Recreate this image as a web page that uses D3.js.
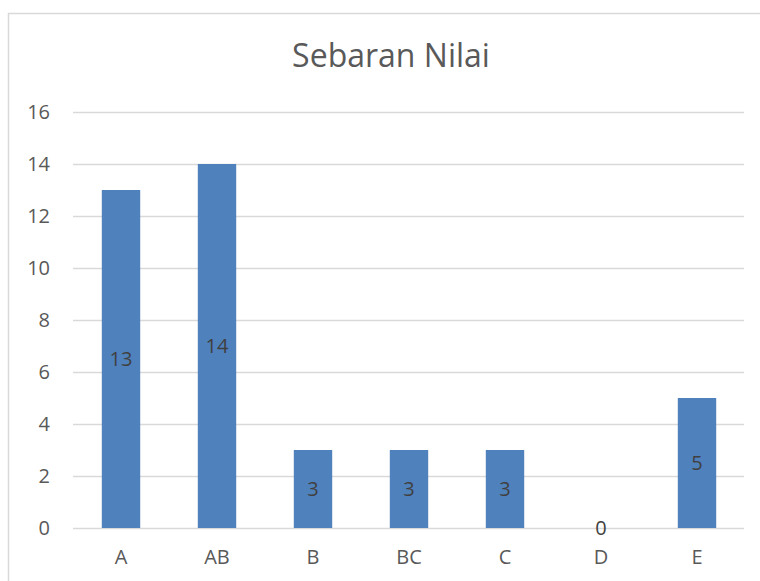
<!DOCTYPE html>
<html>
<head>
<meta charset="utf-8">
<script src="https://cdn.jsdelivr.net/npm/d3@7"></script>
<style>
  body { margin: 0; background: #fff; }
  svg { display: block; font-family: "Open Sans", sans-serif; }
</style>
</head>
<body>
<div id="chart"></div>
<script>
// chart data
var grades = ["A", "AB", "B", "BC", "C", "D", "E"];
var counts = [13, 14, 3, 3, 3, 0, 5];
var yTicks = [0, 2, 4, 6, 8, 10, 12, 14, 16];
var title = "Sebaran Nilai";

var width = 760, height = 581;
var margin = {left: 73, right: 15, top: 112, bottom: 53};

var svg = d3.select("#chart").append("svg")
  .attr("width", width)
  .attr("height", height);

// outer chart frame (runs past the bottom/right of the picture)
svg.append("rect")
  .attr("x", 8.5).attr("y", 13.5)
  .attr("width", 780).attr("height", 600)
  .attr("fill", "none")
  .attr("stroke", "#d9d9d9")
  .attr("stroke-width", 1.5);

var x = d3.scaleBand()
  .domain(grades)
  .range([margin.left, width - margin.right])
  .paddingInner(0.6)
  .paddingOuter(0.3);

var y = d3.scaleLinear()
  .domain([0, 16])
  .range([height - margin.bottom, margin.top]);

// gridlines
svg.append("g")
  .selectAll("line")
  .data(yTicks)
  .enter()
  .append("line")
  .attr("x1", margin.left)
  .attr("x2", width - margin.right - 1)
  .attr("y1", function (d) { return Math.round(y(d)) + 0.5; })
  .attr("y2", function (d) { return Math.round(y(d)) + 0.5; })
  .attr("stroke", "#d9d9d9")
  .attr("stroke-width", 1.5);

// y axis labels
var yAxis = d3.axisLeft(y).tickValues(yTicks).tickSize(0).tickPadding(23);
var gy = svg.append("g")
  .attr("transform", "translate(" + margin.left + ",0)")
  .call(yAxis);
gy.select(".domain").remove();
gy.selectAll("text")
  .attr("fill", "#595959")
  .style("font-size", "20px")
  .style("font-family", "Open Sans, sans-serif");

// bars
svg.selectAll("rect.bar")
  .data(counts)
  .enter()
  .append("rect")
  .attr("class", "bar")
  .attr("x", function (d, i) { return x(grades[i]); })
  .attr("y", function (d) { return y(d); })
  .attr("width", x.bandwidth())
  .attr("height", function (d) { return y(0) - y(d); })
  .attr("fill", "#4f81bd");

// value labels in the middle of each bar
svg.selectAll("text.val")
  .data(counts)
  .enter()
  .append("text")
  .attr("class", "val")
  .attr("x", function (d, i) { return x(grades[i]) + x.bandwidth() / 2; })
  .attr("y", function (d) { return (y(d) + y(0)) / 2; })
  .attr("dy", "0.35em")
  .attr("text-anchor", "middle")
  .attr("fill", "#404040")
  .style("font-size", "20px")
  .text(function (d) { return d; });

// x axis labels
var xAxis = d3.axisBottom(x).tickSize(0).tickPadding(22);
var gx = svg.append("g")
  .attr("transform", "translate(0," + y(0) + ")")
  .call(xAxis);
gx.select(".domain").remove();
gx.selectAll("text")
  .attr("fill", "#595959")
  .style("font-size", "20px")
  .style("font-family", "Open Sans, sans-serif");

// title
svg.append("text")
  .attr("x", 391)
  .attr("y", 67)
  .attr("text-anchor", "middle")
  .attr("fill", "#595959")
  .style("font-size", "32px")
  .text(title);
</script>
</body>
</html>
